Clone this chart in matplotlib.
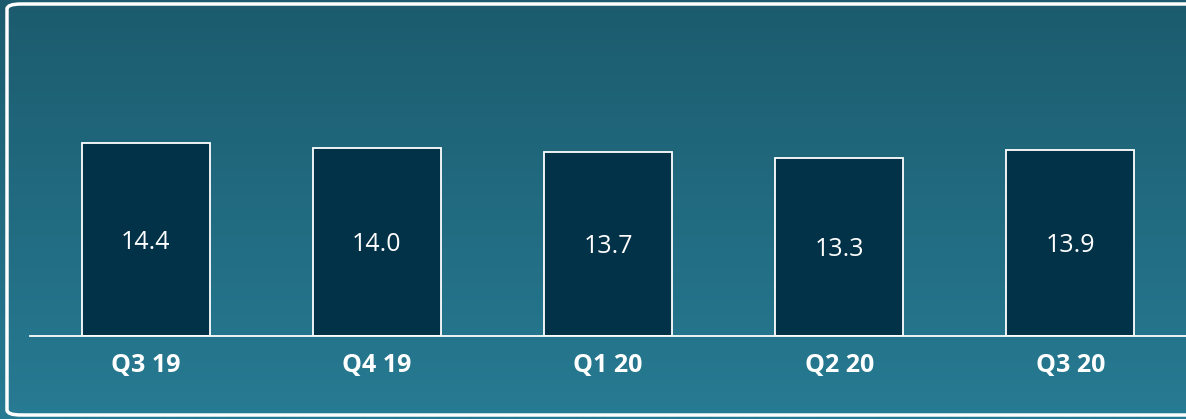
import matplotlib
matplotlib.use("Agg")
import matplotlib.pyplot as plt
import numpy as np
from matplotlib.patches import FancyBboxPatch
from matplotlib.colors import LinearSegmentedColormap

quarters = ["Q3 19", "Q4 19", "Q1 20", "Q2 20", "Q3 20"]
values = [14.4, 14.0, 13.7, 13.3, 13.9]

W, H = 1186, 419
fig = plt.figure(figsize=(W / 100, H / 100), dpi=100)

# vertical gradient background
bg = fig.add_axes([0, 0, 1, 1], zorder=0)
grad = np.linspace(0, 1, 256).reshape(-1, 1)
cmap = LinearSegmentedColormap.from_list("bg", ["#1c5b6e", "#277b93"])
bg.imshow(grad, aspect="auto", cmap=cmap, extent=[0, 1, 0, 1], origin="upper")
bg.set_axis_off()

# rounded white frame
frame = FancyBboxPatch((7 / W, 4 / H), 1.2, (H - 8) / H,
                       boxstyle="round,pad=0,rounding_size=0.012",
                       transform=fig.transFigure, fill=False,
                       edgecolor="white", linewidth=2.5, zorder=5)
fig.patches.append(frame)

ax = fig.add_axes([30 / W, 83 / H, 1 - 30 / W, (336 - 5) / H], zorder=2)
ax.patch.set_alpha(0)
x = np.arange(len(values))
bars = ax.bar(x, values, width=0.554, color="#023247", edgecolor="white",
              linewidth=1.3)
ax.set_xlim(-0.5, len(values) - 0.5)
ax.set_ylim(0, 331 / 13.4)

for xi, v in zip(x, values):
    ax.text(xi, v / 2 - 0.2, f"{v:.1f}", ha="center", va="center",
            color="white", fontsize=18, family="Open Sans",
            fontweight="normal")

for s in ["top", "right", "left"]:
    ax.spines[s].set_visible(False)
ax.spines["bottom"].set_color("white")
ax.spines["bottom"].set_linewidth(1.3)
ax.set_yticks([])
ax.set_xticks(x)
ax.set_xticklabels(quarters, color="white", fontsize=18, fontweight="bold",
                   family="Open Sans")
ax.tick_params(axis="x", length=0, pad=12)

fig.savefig("out.png", dpi=100)
